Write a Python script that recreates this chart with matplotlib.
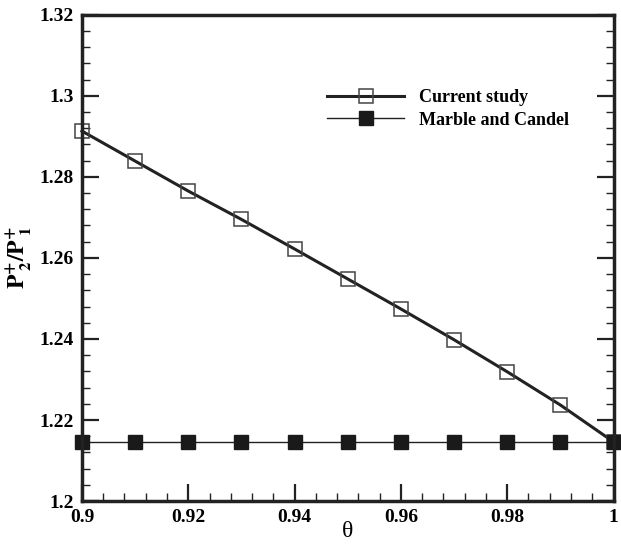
import matplotlib.pyplot as plt
from matplotlib.ticker import MultipleLocator, FormatStrFormatter

plt.rcParams['font.family'] = ['Liberation Serif', 'DejaVu Serif']
plt.rcParams['mathtext.fontset'] = 'stix'

theta = [0.90, 0.91, 0.92, 0.93, 0.94, 0.95, 0.96, 0.97, 0.98, 0.99, 1.00]
current = [1.2913, 1.2839, 1.2765, 1.2695, 1.2622, 1.2548, 1.2474, 1.2398, 1.2319, 1.2237, 1.2146]
marble = [1.2146] * len(theta)

fig = plt.figure(figsize=(6.21, 5.47), dpi=100)
ax = fig.add_axes([0.132, 0.084, 0.856, 0.889])

ax.plot(theta, current, color='#222222', lw=2.2, marker='s', ms=10,
        mfc='none', mec='#444444', mew=1.1, label='Current study', clip_on=False)
ax.plot(theta, marble, color='#222222', lw=1.0, marker='s', ms=10,
        mfc='#1a1a1a', mec='#1a1a1a', label='Marble and Candel', clip_on=False)

ax.set_xlim(0.9, 1.0)
ax.set_ylim(1.2, 1.32)
ax.xaxis.set_major_locator(MultipleLocator(0.02))
ax.xaxis.set_minor_locator(MultipleLocator(0.004))
ax.yaxis.set_major_locator(MultipleLocator(0.02))
ax.yaxis.set_minor_locator(MultipleLocator(0.004))
ax.xaxis.set_major_formatter(FormatStrFormatter('%g'))
ax.yaxis.set_major_formatter(FormatStrFormatter('%g'))

ax.tick_params(which='both', direction='in', right=True, top=False,
               width=1.6, labelsize=14, color='#222222')
ax.tick_params(which='major', length=12, pad=6)
ax.tick_params(which='minor', length=6, width=1.0)
for lab in ax.get_xticklabels() + ax.get_yticklabels():
    lab.set_fontweight('bold')
for s in ax.spines.values():
    s.set_linewidth(2.5)
    s.set_color('#222222')

ax.set_xlabel('θ', fontsize=17, labelpad=-4)
ax.set_ylabel(r'$\mathbf{P^{+}_{\ 2}/P^{+}_{\ 1}}$', fontsize=17, labelpad=4)

leg = ax.legend(loc='upper left', bbox_to_anchor=(0.43, 0.88), frameon=False,
                handlelength=4.3, handletextpad=0.8, labelspacing=0.3,
                prop={'weight': 'bold', 'size': 13})

fig.savefig('out.png', dpi=100)
